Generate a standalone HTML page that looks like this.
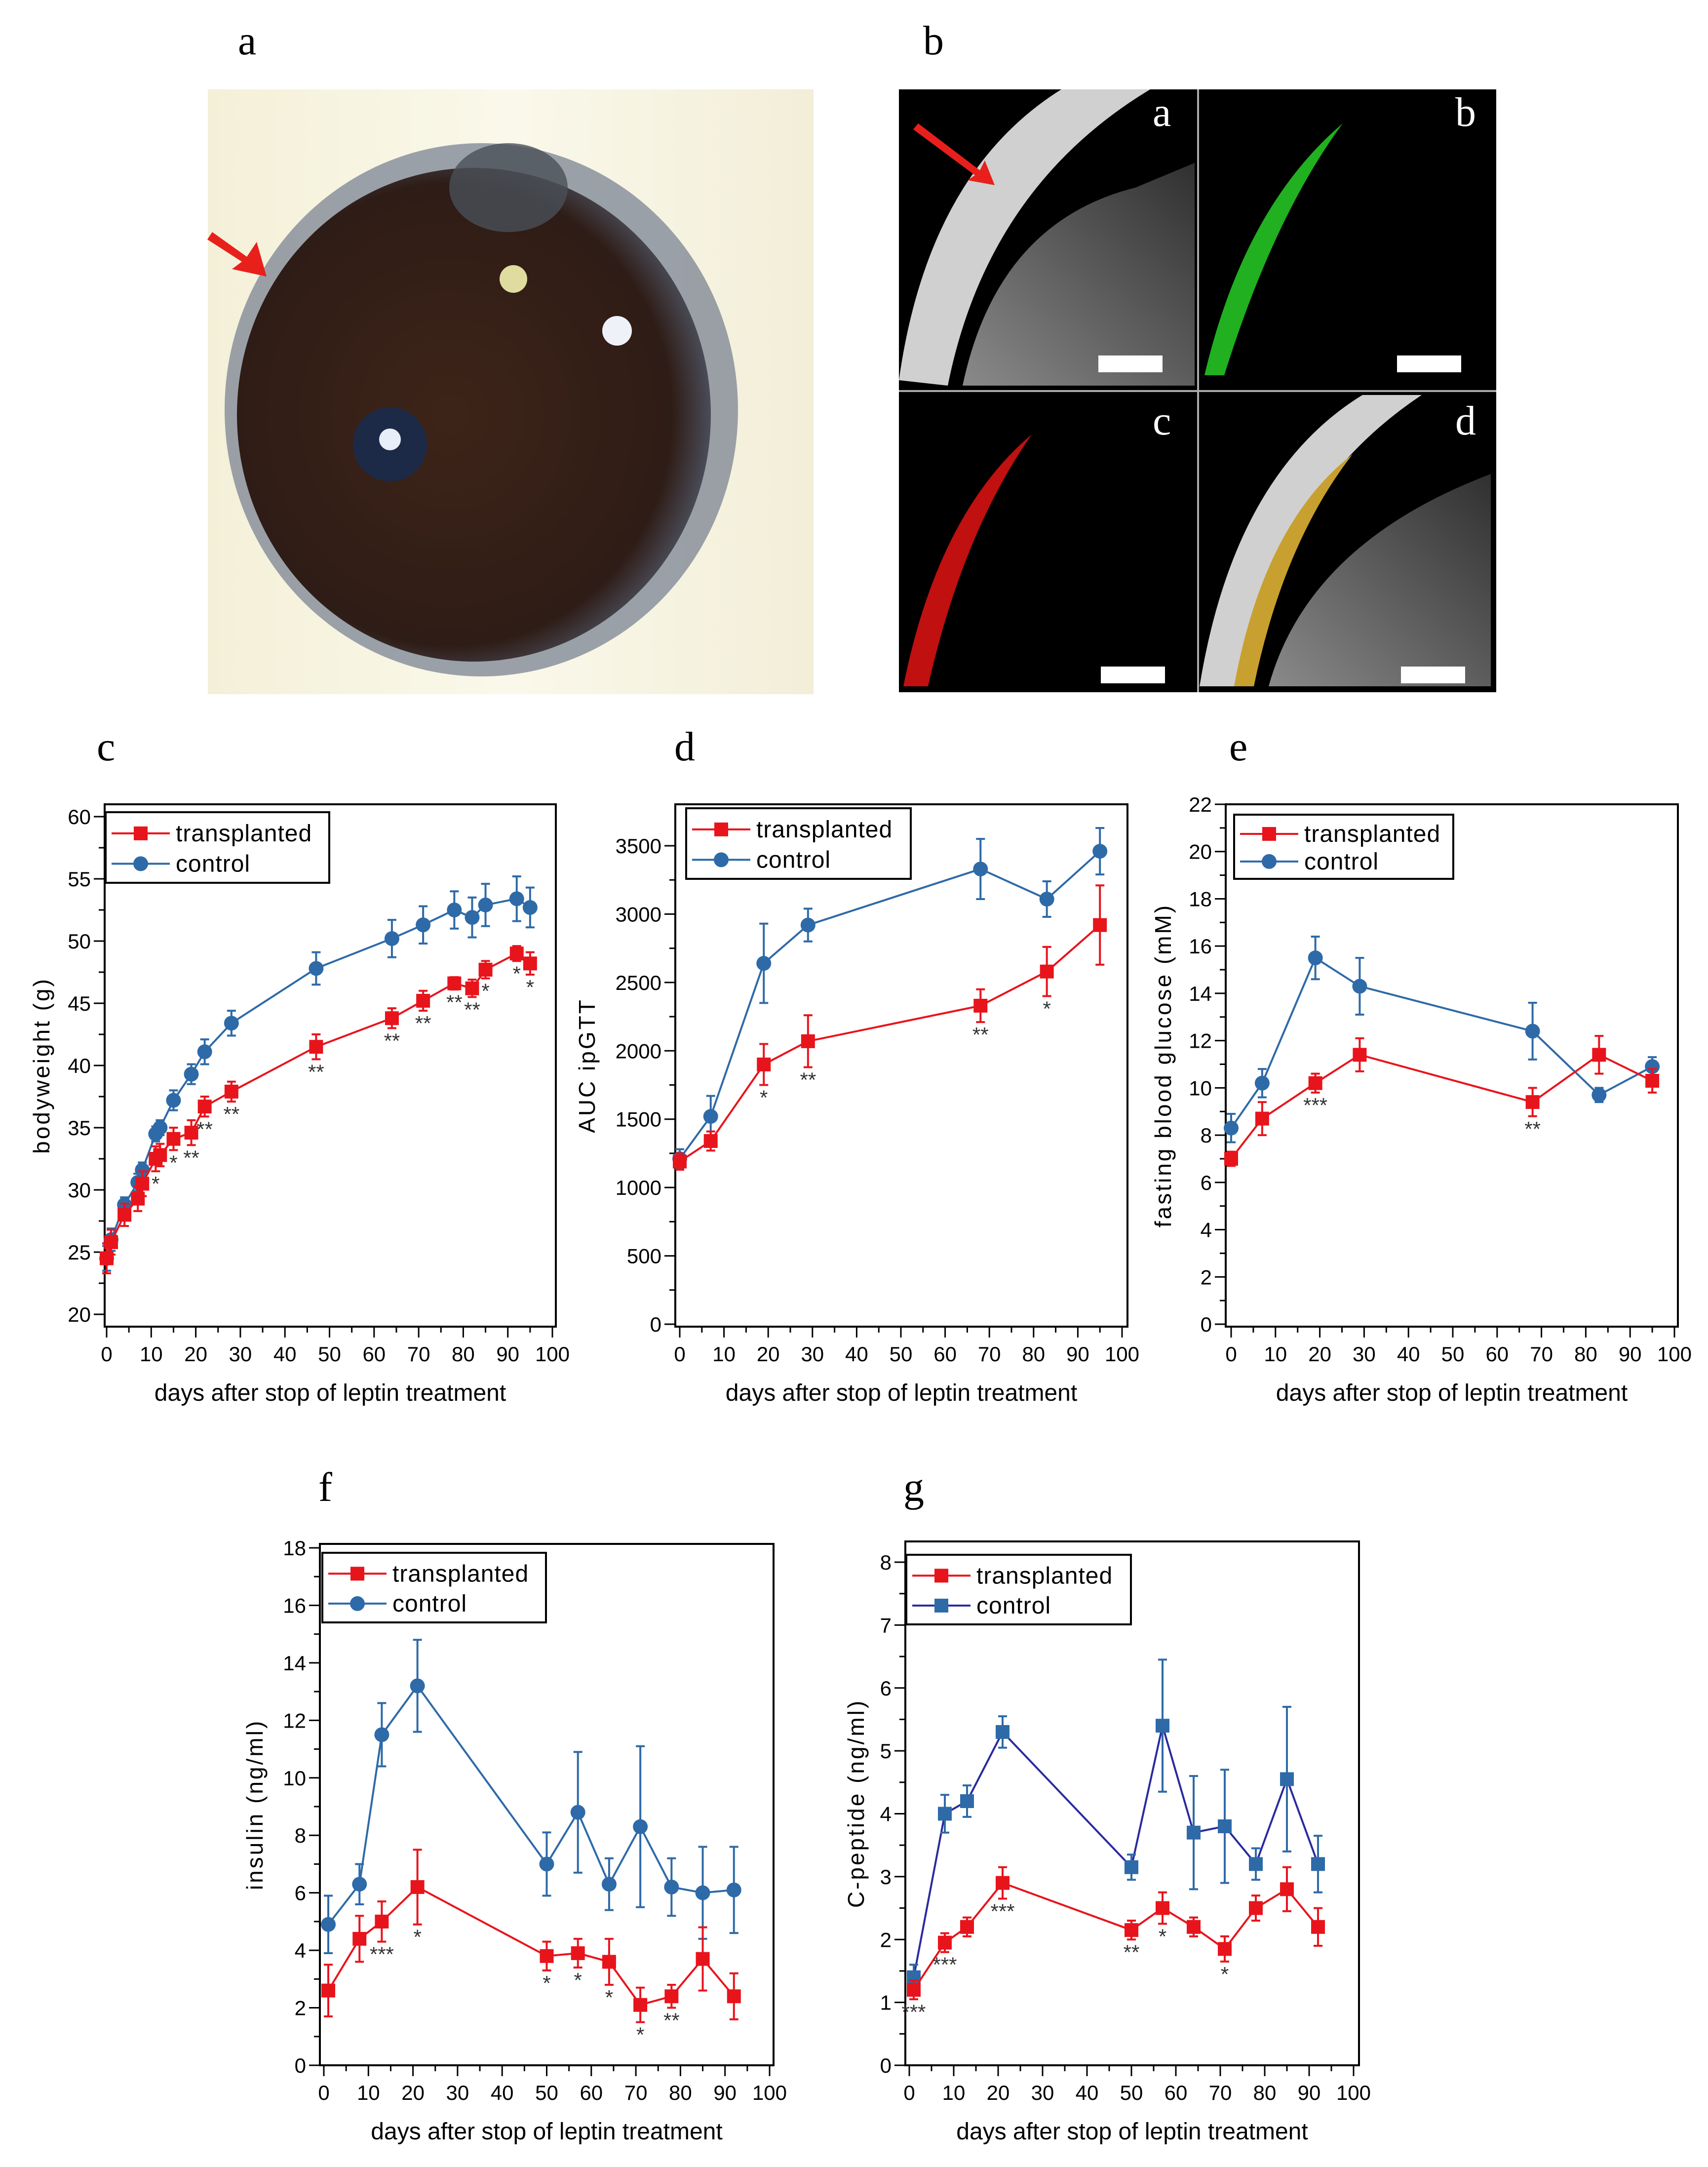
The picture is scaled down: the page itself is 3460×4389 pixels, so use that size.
<!DOCTYPE html>
<html><head><meta charset="utf-8"><style>
html,body{margin:0;padding:0;background:#fff;}
svg{display:block;font-family:"Liberation Sans",sans-serif;}
.pl{font-family:"Liberation Serif",serif;font-size:84px;}
</style></head><body>
<svg id="fig" width="3460" height="4389" viewBox="0 0 3460 4389" xmlns="http://www.w3.org/2000/svg">
<defs>
<radialGradient id="eyeG" cx="0.45" cy="0.5" r="0.55"><stop offset="0" stop-color="#3e2418"/><stop offset="0.85" stop-color="#2e1c16"/><stop offset="1" stop-color="#4a4c58"/></radialGradient>
<linearGradient id="bgG" x1="0" x2="1"><stop offset="0" stop-color="#f4f0d8"/><stop offset="0.5" stop-color="#faf8ea"/><stop offset="1" stop-color="#f2eed8"/></linearGradient>
<linearGradient id="tisG" x1="0" x2="1" y1="1" y2="0"><stop offset="0" stop-color="#8a8a8a"/><stop offset="1" stop-color="#303030"/></linearGradient>
</defs>
<text class="pl" x="482" y="110">a</text>
<text class="pl" x="1870" y="110">b</text>
<g>
<rect x="421" y="181" width="1227" height="1225" fill="url(#bgG)"/>
<ellipse cx="975" cy="830" rx="520" ry="540" fill="#8a909c" opacity="0.85"/>
<ellipse cx="960" cy="840" rx="480" ry="500" fill="url(#eyeG)"/>
<ellipse cx="1030" cy="380" rx="120" ry="90" fill="#4a5058" opacity="0.8"/>
<circle cx="790" cy="900" r="75" fill="#1c2a48"/>
<circle cx="790" cy="890" r="22" fill="#e8eef8"/>
<circle cx="1040" cy="565" r="28" fill="#e0dca0"/>
<circle cx="1250" cy="670" r="30" fill="#eef2f8"/>
<polygon points="430,470 500,520 520,490 540,560 470,545 490,530 420,485" fill="#e8201c"/>
</g>
<g>
<rect x="1821" y="181" width="1210" height="1221" fill="#000"/>
<path d="M1821,770 Q1880,350 2150,181 L2330,181 Q2000,380 1920,781 Z" fill="#d0d0d0"/>
<path d="M1950,781 Q2020,450 2300,380 L2420,330 L2420,781 Z" fill="url(#tisG)"/>
<path d="M2440,760 Q2520,420 2720,250 Q2580,440 2480,760 Z" fill="#20b020"/>
<path d="M1830,1390 Q1900,1040 2090,880 Q1950,1080 1880,1390 Z" fill="#c01010"/>
<path d="M2430,1390 Q2500,960 2760,800 L2880,800 Q2580,1000 2520,1390 Z" fill="#d0d0d0"/>
<path d="M2500,1390 Q2560,1060 2740,920 Q2600,1100 2540,1390 Z" fill="#c8a030"/>
<path d="M2570,1390 Q2650,1100 3020,960 L3020,1390 Z" fill="url(#tisG)"/>
<rect x="2425" y="181" width="4" height="1221" fill="#aaa"/>
<rect x="1821" y="790" width="1210" height="4" fill="#aaa"/>
<g class="pl" fill="#fff"><text x="2335" y="255">a</text><text x="2948" y="255">b</text><text x="2335" y="880">c</text><text x="2948" y="880">d</text></g>
<g fill="#fff"><rect x="2225" y="720" width="130" height="34"/><rect x="2830" y="720" width="130" height="34"/><rect x="2230" y="1350" width="130" height="34"/><rect x="2838" y="1350" width="130" height="34"/></g>
<polygon points="1860,250 1985,345 1995,325 2015,375 1960,365 1975,355 1850,262" fill="#e8201c"/>
</g>
<text class="pl" x="196" y="1540">c</text>
<text class="pl" x="1366" y="1540">d</text>
<text class="pl" x="2490" y="1540">e</text>
<text class="pl" x="645" y="3040">f</text>
<text class="pl" x="1830" y="3040">g</text>
</svg>
<script>
// Panel c: bodyweight
const cDays=[0,1,4,7,8,11,12,15,19,22,28,47,64,71,78,82,85,92,95];
const cTrans=[24.5,25.8,28.0,29.3,30.5,32.5,32.8,34.1,34.6,36.7,37.9,41.5,43.8,45.2,46.6,46.2,47.7,49.0,48.2];
const cTransErr=[1.2,1.0,0.9,1.0,1.0,1.0,0.9,0.9,1.0,0.8,0.8,1.0,0.8,0.8,0.5,0.7,0.7,0.6,0.9];
const cCtrl=[24.5,26.0,28.8,30.6,31.6,34.5,35.0,37.2,39.3,41.1,43.4,47.8,50.2,51.3,52.5,51.9,52.9,53.4,52.7];
const cCtrlErr=[1.0,0.9,0.6,0.7,0.6,0.6,0.6,0.8,0.8,1.0,1.0,1.3,1.5,1.5,1.5,1.6,1.7,1.8,1.6];
const cStars=["","","","","","*","","*","**","**","**","**","**","**","**","**","*","*","*"];
// Panel d: AUC ipGTT
const dDays=[0,7,19,29,68,83,95];
const dTrans=[1190,1340,1900,2070,2330,2580,2920];
const dTransErr=[60,70,150,190,120,180,290];
const dCtrl=[1210,1520,2640,2920,3330,3110,3460];
const dCtrlErr=[70,150,290,120,220,130,170];
const dStars=["","","*","**","**","*",""];
// Panel e: fasting blood glucose
const eDays=[0,7,19,29,68,83,95];
const eTrans=[7.0,8.7,10.2,11.4,9.4,11.4,10.3];
const eTransErr=[0.3,0.7,0.4,0.7,0.6,0.8,0.5];
const eCtrl=[8.3,10.2,15.5,14.3,12.4,9.7,10.9];
const eCtrlErr=[0.6,0.6,0.9,1.2,1.2,0.3,0.4];
const eStars=["","","***","","**","",""];
// Panel f: insulin
const fDays=[1,8,13,21,50,57,64,71,78,85,92];
const fTrans=[2.6,4.4,5.0,6.2,3.8,3.9,3.6,2.1,2.4,3.7,2.4];
const fTransErr=[0.9,0.8,0.7,1.3,0.5,0.5,0.8,0.6,0.4,1.1,0.8];
const fCtrl=[4.9,6.3,11.5,13.2,7.0,8.8,6.3,8.3,6.2,6.0,6.1];
const fCtrlErr=[1.0,0.7,1.1,1.6,1.1,2.1,0.9,2.8,1.0,1.6,1.5];
const fStars=["","","***","*","*","*","*","*","**","",""];
// Panel g: C-peptide
const gDays=[1,8,13,21,50,57,64,71,78,85,92];
const gTrans=[1.2,1.95,2.2,2.9,2.15,2.5,2.2,1.85,2.5,2.8,2.2];
const gTransErr=[0.15,0.15,0.15,0.25,0.15,0.25,0.15,0.2,0.2,0.35,0.3];
const gCtrl=[1.4,4.0,4.2,5.3,3.15,5.4,3.7,3.8,3.2,4.55,3.2];
const gCtrlErr=[0.2,0.3,0.25,0.25,0.2,1.05,0.9,0.9,0.25,1.15,0.45];
const gStars=["***","***","","***","**","*","","*","","",""];
const xTicks=[0,10,20,30,40,50,60,70,80,90,100];
const cYTicks=[20,25,30,35,40,45,50,55,60];
const dYTicks=[0,500,1000,1500,2000,2500,3000,3500];
const eYTicks=[0,2,4,6,8,10,12,14,16,18,20,22];
const fYTicks=[0,2,4,6,8,10,12,14,16,18];
const gYTicks=[0,1,2,3,4,5,6,7,8];

const NS="http://www.w3.org/2000/svg";
const svg=document.getElementById('fig');
function mk(tag,attrs,parent){const e=document.createElementNS(NS,tag);for(const k in attrs)e.setAttribute(k,attrs[k]);(parent||svg).appendChild(e);return e;}

function chart(o){
  const g=mk('g',{});
  
  
  const X=v=>o.x0+(v-0)/(100)*(o.x1-o.x0);
  const Y=v=>o.yb-(v-o.ymin)/(o.ymax-o.ymin)*(o.yb-o.yt);
  mk('rect',{x:o.bx,y:o.by,width:o.bw,height:o.bh,fill:'none',stroke:'#000','stroke-width':4},g);
  xTicks.forEach((t,i)=>{
    const x=X(t);
    mk('line',{x1:x,y1:o.by+o.bh,x2:x,y2:o.by+o.bh+22,stroke:'#000','stroke-width':3},g);
    if(i<xTicks.length-1) mk('line',{x1:X(t+5),y1:o.by+o.bh,x2:X(t+5),y2:o.by+o.bh+12,stroke:'#000','stroke-width':3},g);
    const tx=mk('text',{x:x,y:o.by+o.bh+70,'text-anchor':'middle','font-size':42},g);tx.textContent=t;
  });
  o.yt_.forEach((t,i)=>{
    const y=Y(t);
    mk('line',{x1:o.bx,y1:y,x2:o.bx-22,y2:y,stroke:'#000','stroke-width':3},g);
    if(i<o.yt_.length-1){const ym=Y(t+(o.yt_[1]-o.yt_[0])/2);mk('line',{x1:o.bx,y1:ym,x2:o.bx-12,y2:ym,stroke:'#000','stroke-width':3},g);}
    const tx=mk('text',{x:o.bx-28,y:y+15,'text-anchor':'end','font-size':42},g);tx.textContent=t;
  });
  const xt=mk('text',{x:o.bx+o.bw/2,y:o.by+o.bh+150,'text-anchor':'middle','font-size':48},g);xt.textContent='days after stop of leptin treatment';
  
  
  const yt=mk('text',{x:0,y:0,'text-anchor':'middle','font-size':46,'letter-spacing':4,transform:`translate(${o.ytx},${o.by+o.bh/2}) rotate(-90)`},g);yt.textContent=o.ytitle;
  
  
  function series(days,vals,errs,col,lcol,marker,nm){
    const sg=mk('g',{},g);
    
    
    mk('polyline',{points:days.map((d,i)=>X(d)+','+Y(vals[i])).join(' '),fill:'none',stroke:lcol,'stroke-width':4},sg);
    days.forEach((d,i)=>{
      const x=X(d),y=Y(vals[i]),ya=Y(vals[i]+errs[i]),yb=Y(vals[i]-errs[i]);
      mk('line',{x1:x,y1:ya,x2:x,y2:yb,stroke:col,'stroke-width':4},sg);
      mk('line',{x1:x-9,y1:ya,x2:x+9,y2:ya,stroke:col,'stroke-width':4},sg);
      mk('line',{x1:x-9,y1:yb,x2:x+9,y2:yb,stroke:col,'stroke-width':4},sg);
      let m;
      if(marker==='sq') m=mk('rect',{x:x-14,y:y-14,width:28,height:28,fill:col},sg);
      else m=mk('circle',{cx:x,cy:y,r:15,fill:col},sg);
      
      
    });
  }
  series(o.days,o.ctrl,o.ctrlE,'#2e6aa8',o.ctrlLine||'#2e6aa8',o.ctrlMarker||'ci','control-series');
  series(o.days,o.trans,o.transE,'#e8141c','#e8141c','sq','transplanted-series');
  o.stars.forEach((s,i)=>{
    if(!s)return;
    const t=mk('text',{x:X(o.days[i]),y:Y(o.trans[i]-o.transE[i])+40,'text-anchor':'middle','font-size':42,fill:'#333'},g);t.textContent=s;
    
    
  });
  const L=o.leg;
  const lg=mk('g',{},g);
  
  
  mk('rect',{x:L[0],y:L[1],width:L[2],height:L[3],fill:'#fff',stroke:'#000','stroke-width':4},lg);
  const rows=[['transplanted','#e8141c','#e8141c','sq'],['control','#2e6aa8',o.ctrlLine||'#2e6aa8',o.ctrlMarker||'ci']];
  rows.forEach((r,i)=>{
    const y=L[1]+L[3]*(0.3+0.43*i);
    const e=mk('g',{},lg);
    
    
    mk('line',{x1:L[0]+12,y1:y,x2:L[0]+130,y2:y,stroke:r[2],'stroke-width':4},e);
    if(r[3]==='sq')mk('rect',{x:L[0]+57,y:y-14,width:28,height:28,fill:r[1]},e);else mk('circle',{cx:L[0]+71,cy:y,r:15,fill:r[1]},e);
    const t=mk('text',{x:L[0]+142,y:y+16,'font-size':48,'letter-spacing':1},e);t.textContent=r[0];
  });
}
chart({name:'chart-c-bodyweight',bx:212,by:1629,bw:914,bh:1058,x0:216,x1:1119,ymin:20,ymax:60,yt:1654,yb:2662,yt_:cYTicks,ytitle:'bodyweight (g)',ytx:100,days:cDays,trans:cTrans,transE:cTransErr,ctrl:cCtrl,ctrlE:cCtrlErr,stars:cStars,leg:[214,1645,453,143]});
chart({name:'chart-d-auc-ipgtt',bx:1368,by:1629,bw:916,bh:1058,x0:1377,x1:2273,ymin:0,ymax:3500,yt:1713,yb:2682,yt_:dYTicks,ytitle:'AUC ipGTT',ytx:1205,days:dDays,trans:dTrans,transE:dTransErr,ctrl:dCtrl,ctrlE:dCtrlErr,stars:dStars,leg:[1390,1637,455,143]});
chart({name:'chart-e-glucose',bx:2483,by:1629,bw:916,bh:1058,x0:2494,x1:3392,ymin:0,ymax:22,yt:1629,yb:2682,yt_:eYTicks,ytitle:'fasting blood glucose (mM)',ytx:2372,days:eDays,trans:eTrans,transE:eTransErr,ctrl:eCtrl,ctrlE:eCtrlErr,stars:eStars,leg:[2500,1650,444,130]});
chart({name:'chart-f-insulin',bx:648,by:3127,bw:919,bh:1056,x0:656,x1:1559,ymin:0,ymax:18,yt:3135,yb:4183,yt_:fYTicks,ytitle:'insulin (ng/ml)',ytx:532,days:fDays,trans:fTrans,transE:fTransErr,ctrl:fCtrl,ctrlE:fCtrlErr,stars:fStars,leg:[653,3145,453,141]});
chart({name:'chart-g-c-peptide',bx:1834,by:3122,bw:919,bh:1061,x0:1842,x1:2742,ymin:0,ymax:8,yt:3164,yb:4183,yt_:gYTicks,ytitle:'C-peptide (ng/ml)',ytx:1750,days:gDays,trans:gTrans,transE:gTransErr,ctrl:gCtrl,ctrlE:gCtrlErr,stars:gStars,leg:[1836,3149,455,141],ctrlLine:'#2a2aa0',ctrlMarker:'sq'});
</script>
</body></html>
